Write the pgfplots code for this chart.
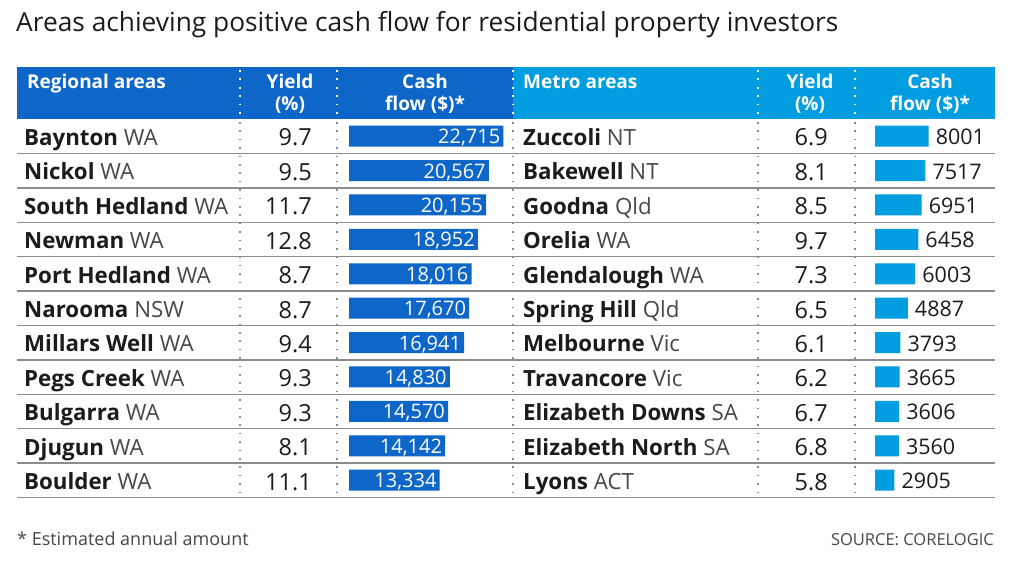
\documentclass[border=0pt]{standalone}
\usepackage{fontspec}
\IfFontExistsTF{Open Sans SemiBold}{\setmainfont{Open Sans}[BoldFont={Open Sans SemiBold}]}{\setmainfont{Open Sans}}
\usepackage{pgfplots}
\pgfplotsset{compat=1.18}
\definecolor{darkblue}{RGB}{14,102,200}
\definecolor{lightblue}{RGB}{0,158,224}
\definecolor{txt}{RGB}{28,28,28}
\definecolor{st}{RGB}{72,72,72}
\definecolor{rulec}{RGB}{140,140,140}
\definecolor{dotc}{RGB}{140,140,140}
\pgfplotsset{/pgf/number format/assume math mode=true}
\newcommand{\bodyf}{\fontsize{22.3}{24}\selectfont}
\newcommand{\yldf}{\fontsize{23.5}{24}\selectfont}
\newcommand{\headf}{\fontsize{19}{22}\selectfont}
\begin{document}
\begin{tikzpicture}
\begin{axis}[at={(0,0)},anchor=south west,width=1024pt,height=580pt,scale only axis,
  xmin=0,xmax=1024,ymin=0,ymax=580,y dir=reverse,hide axis,clip=false]
\path[fill=white] (axis cs:0,0) rectangle (axis cs:1024,580);
% title
\node[anchor=base west,inner sep=0pt,text=txt,font=\fontsize{26.3}{28}\selectfont] at (axis cs:16,32) {Areas achieving positive cash flow for residential property investors};
% header bands
\fill[darkblue] (axis cs:17,67) rectangle (axis cs:513,119);
\fill[lightblue] (axis cs:513,67) rectangle (axis cs:995,119);
% row rules
\pgfplotsinvokeforeach{1,...,11}{
  \draw[rulec,line width=1.4pt] (axis cs:17,{119+#1*34.4}) -- (axis cs:995,{119+#1*34.4});
}
% dotted separators
\pgfplotsinvokeforeach{240,337,513,758,855}{
  \draw[white,line width=1.8pt,dash pattern=on 1.8pt off 6.6pt] (axis cs:#1,70) -- (axis cs:#1,119);
  \draw[dotc,line width=1.6pt,dash pattern=on 1.6pt off 6.8pt] (axis cs:#1,122) -- (axis cs:#1,497);
}
% header text
\node[anchor=base west,inner sep=0pt,text=white,font=\headf\bfseries] at (axis cs:27,89) {Regional areas};
\node[anchor=base,inner sep=0pt,text=white,font=\headf\bfseries] at (axis cs:290,89) {Yield};
\node[anchor=base,inner sep=0pt,text=white,font=\headf\bfseries] at (axis cs:290,111) {(\%)};
\node[anchor=base,inner sep=0pt,text=white,font=\headf\bfseries] at (axis cs:425,89) {Cash};
\node[anchor=base,inner sep=0pt,text=white,font=\headf\bfseries] at (axis cs:425,111) {flow (\$)*};
\node[anchor=base west,inner sep=0pt,text=white,font=\headf\bfseries] at (axis cs:523,89) {Metro areas};
\node[anchor=base,inner sep=0pt,text=white,font=\headf\bfseries] at (axis cs:810,89) {Yield};
\node[anchor=base,inner sep=0pt,text=white,font=\headf\bfseries] at (axis cs:810,111) {(\%)};
\node[anchor=base,inner sep=0pt,text=white,font=\headf\bfseries] at (axis cs:930,89) {Cash};
\node[anchor=base,inner sep=0pt,text=white,font=\headf\bfseries] at (axis cs:930,111) {flow (\$)*};
% names left
\node[anchor=base west,inner sep=0pt,text=txt,font=\bodyf] at (axis cs:24,145.5) {\textbf{Baynton} \textcolor{st}{WA}};
\node[anchor=base west,inner sep=0pt,text=txt,font=\bodyf] at (axis cs:24,179.9) {\textbf{Nickol} \textcolor{st}{WA}};
\node[anchor=base west,inner sep=0pt,text=txt,font=\bodyf] at (axis cs:24,214.3) {\textbf{South Hedland} \textcolor{st}{WA}};
\node[anchor=base west,inner sep=0pt,text=txt,font=\bodyf] at (axis cs:24,248.7) {\textbf{Newman} \textcolor{st}{WA}};
\node[anchor=base west,inner sep=0pt,text=txt,font=\bodyf] at (axis cs:24,283.1) {\textbf{Port Hedland} \textcolor{st}{WA}};
\node[anchor=base west,inner sep=0pt,text=txt,font=\bodyf] at (axis cs:24,317.5) {\textbf{Narooma} \textcolor{st}{NSW}};
\node[anchor=base west,inner sep=0pt,text=txt,font=\bodyf] at (axis cs:24,351.9) {\textbf{Millars Well} \textcolor{st}{WA}};
\node[anchor=base west,inner sep=0pt,text=txt,font=\bodyf] at (axis cs:24,386.3) {\textbf{Pegs Creek} \textcolor{st}{WA}};
\node[anchor=base west,inner sep=0pt,text=txt,font=\bodyf] at (axis cs:24,420.7) {\textbf{Bulgarra} \textcolor{st}{WA}};
\node[anchor=base west,inner sep=0pt,text=txt,font=\bodyf] at (axis cs:24,455.1) {\textbf{Djugun} \textcolor{st}{WA}};
\node[anchor=base west,inner sep=0pt,text=txt,font=\bodyf] at (axis cs:24,489.5) {\textbf{Boulder} \textcolor{st}{WA}};
% names right
\node[anchor=base west,inner sep=0pt,text=txt,font=\bodyf] at (axis cs:523,145.5) {\textbf{Zuccoli} \textcolor{st}{NT}};
\node[anchor=base west,inner sep=0pt,text=txt,font=\bodyf] at (axis cs:523,179.9) {\textbf{Bakewell} \textcolor{st}{NT}};
\node[anchor=base west,inner sep=0pt,text=txt,font=\bodyf] at (axis cs:523,214.3) {\textbf{Goodna} \textcolor{st}{Qld}};
\node[anchor=base west,inner sep=0pt,text=txt,font=\bodyf] at (axis cs:523,248.7) {\textbf{Orelia} \textcolor{st}{WA}};
\node[anchor=base west,inner sep=0pt,text=txt,font=\bodyf] at (axis cs:523,283.1) {\textbf{Glendalough} \textcolor{st}{WA}};
\node[anchor=base west,inner sep=0pt,text=txt,font=\bodyf] at (axis cs:523,317.5) {\textbf{Spring Hill} \textcolor{st}{Qld}};
\node[anchor=base west,inner sep=0pt,text=txt,font=\bodyf] at (axis cs:523,351.9) {\textbf{Melbourne} \textcolor{st}{Vic}};
\node[anchor=base west,inner sep=0pt,text=txt,font=\bodyf] at (axis cs:523,386.3) {\textbf{Travancore} \textcolor{st}{Vic}};
\node[anchor=base west,inner sep=0pt,text=txt,font=\bodyf] at (axis cs:523,420.7) {\textbf{Elizabeth Downs} \textcolor{st}{SA}};
\node[anchor=base west,inner sep=0pt,text=txt,font=\bodyf] at (axis cs:523,455.1) {\textbf{Elizabeth North} \textcolor{st}{SA}};
\node[anchor=base west,inner sep=0pt,text=txt,font=\bodyf] at (axis cs:523,489.5) {\textbf{Lyons} \textcolor{st}{ACT}};
% yields
\addplot[draw=none,mark=none,nodes near coords,point meta=explicit symbolic,
  every node near coord/.append style={anchor=base east,inner sep=0pt,text=txt,font=\yldf}]
  coordinates {(312,146)[9.7] (312,180.4)[9.5] (312,214.8)[11.7] (312,249.2)[12.8] (312,283.6)[8.7]
  (312,318)[8.7] (312,352.4)[9.4] (312,386.8)[9.3] (312,421.2)[9.3] (312,455.6)[8.1] (312,490)[11.1]};
\addplot[draw=none,mark=none,nodes near coords,point meta=explicit symbolic,
  every node near coord/.append style={anchor=base east,inner sep=0pt,text=txt,font=\yldf}]
  coordinates {(828,146)[6.9] (828,180.4)[8.1] (828,214.8)[8.5] (828,249.2)[9.7] (828,283.6)[7.3]
  (828,318)[6.5] (828,352.4)[6.1] (828,386.8)[6.2] (828,421.2)[6.7] (828,455.6)[6.8] (828,490)[5.8]};
% footer
\node[anchor=base west,inner sep=0pt,text=st,font=\fontsize{18}{20}\selectfont] at (axis cs:17,545) {* Estimated annual amount};
\node[anchor=base east,inner sep=0pt,text=st,font=\fontsize{16.5}{20}\selectfont] at (axis cs:994,545) {SOURCE: CORELOGIC};
\end{axis}
% left bars
\begin{axis}[at={(349pt,461pt)},anchor=north west,scale only axis,width=204pt,height=378.4pt,
  xmin=0,xmax=30000,ymin=0.5,ymax=11.5,y dir=reverse,hide axis,clip=false,
  xbar,bar width=21pt,nodes near coords,point meta=x,
  /pgf/number format/.cd,fixed,precision=0,1000 sep={,}]
\addplot[fill=darkblue,draw=none,
  every node near coord/.append style={anchor=base east,inner sep=0pt,xshift=-3pt,yshift=-7.5pt,text=white,font=\fontsize{20}{22}\selectfont}]
  coordinates {(22715,1) (20567,2) (20155,3) (18952,4) (18016,5) (17670,6) (16941,7) (14830,8) (14570,9) (14142,10) (13334,11)};
\end{axis}
% right bars
\begin{axis}[at={(875pt,461pt)},anchor=north west,scale only axis,width=67pt,height=378.4pt,
  xmin=0,xmax=10000,ymin=0.5,ymax=11.5,y dir=reverse,hide axis,clip=false,
  xbar,bar width=21pt,nodes near coords,point meta=x,
  /pgf/number format/.cd,fixed,precision=0,1000 sep={}]
\addplot[fill=lightblue,draw=none,
  every node near coord/.append style={anchor=base west,inner sep=0pt,xshift=7pt,yshift=-8.5pt,text=txt,font=\fontsize{21.5}{22}\selectfont}]
  coordinates {(8001,1) (7517,2) (6951,3) (6458,4) (6003,5) (4887,6) (3793,7) (3665,8) (3606,9) (3560,10) (2905,11)};
\end{axis}
\pgfresetboundingbox
\useasboundingbox (0,0) rectangle (1024pt,580pt);
\end{tikzpicture}
\end{document}
